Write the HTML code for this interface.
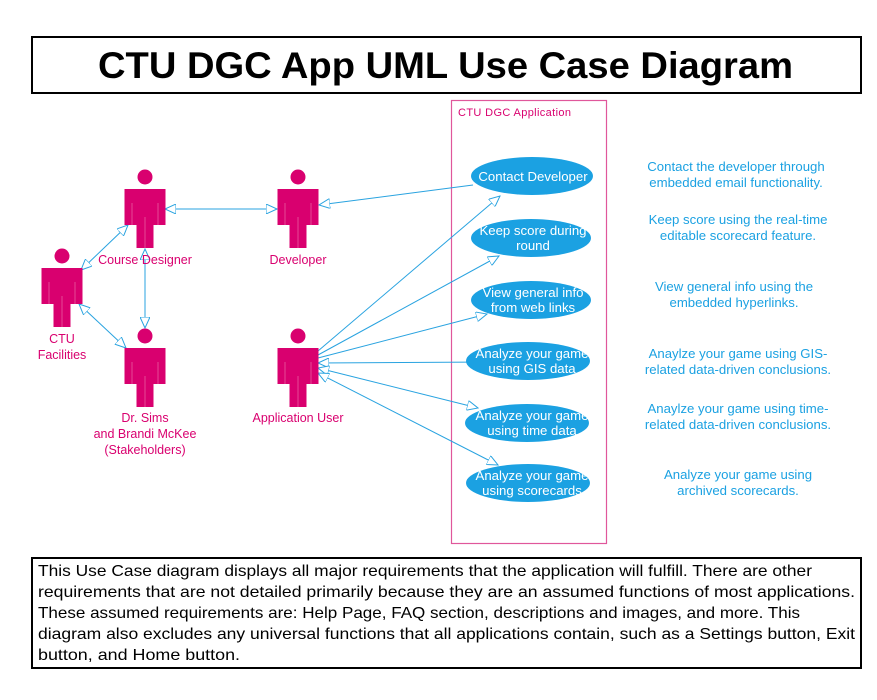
<!DOCTYPE html>
<html><head><meta charset="utf-8"><style>
html,body{margin:0;padding:0;background:#fff;width:877px;height:700px;overflow:hidden}
svg{display:block}
</style></head><body>
<svg width="877" height="700" viewBox="0 0 877 700" xmlns="http://www.w3.org/2000/svg" font-family="Liberation Sans, sans-serif">
<defs>
<marker id="a" markerWidth="12" markerHeight="10" refX="11" refY="5" orient="auto-start-reverse" markerUnits="userSpaceOnUse">
<path d="M0,0 L11,5 L0,10 Z" fill="#fff" stroke="#29a3e0" stroke-width="1"/></marker>
<g id="actor">
<circle cx="0" cy="-12" r="7.5" fill="#d9006f"/>
<path d="M-20.5,0 H20.5 V36 H8.5 V59 H-8.5 V36 H-20.5 Z" fill="#d9006f"/>
<path d="M0,28 V59 M-13,14 V36 M13,14 V36" stroke="#e85a9f" stroke-width="0.8"/>
</g>
</defs>
<rect x="32" y="37" width="829" height="56" fill="#fff" stroke="#000" stroke-width="2"/>
<text x="98" y="78" font-size="37" font-weight="bold" textLength="695" lengthAdjust="spacingAndGlyphs">CTU DGC App UML Use Case Diagram</text>

<rect x="451.5" y="100.5" width="155" height="443" fill="none" stroke="#e0579b" stroke-width="1.2"/>
<text x="458" y="116" font-size="11" fill="#d9006f" textLength="113">CTU DGC Application</text>

<g stroke="#29a3e0" stroke-width="1" fill="none">
<line x1="165" y1="209" x2="277" y2="209" marker-start="url(#a)" marker-end="url(#a)"/>
<line x1="128" y1="225" x2="81" y2="270" marker-start="url(#a)" marker-end="url(#a)"/>
<line x1="145" y1="249" x2="145" y2="328" marker-start="url(#a)" marker-end="url(#a)"/>
<line x1="79" y1="304" x2="126" y2="348" marker-start="url(#a)" marker-end="url(#a)"/>
<line x1="473" y1="185" x2="319" y2="205" marker-end="url(#a)"/>
<line x1="318" y1="351" x2="500" y2="196" marker-end="url(#a)"/>
<line x1="318" y1="355" x2="499" y2="256" marker-end="url(#a)"/>
<line x1="318" y1="358" x2="487" y2="314" marker-end="url(#a)"/>
<line x1="318" y1="363" x2="490" y2="362" marker-start="url(#a)" marker-end="url(#a)"/>
<line x1="318" y1="368" x2="478" y2="408" marker-start="url(#a)" marker-end="url(#a)"/>
<line x1="318" y1="373" x2="498" y2="465" marker-start="url(#a)" marker-end="url(#a)"/>
</g>

<use href="#actor" x="145" y="189"/>
<use href="#actor" x="298" y="189"/>
<use href="#actor" x="62" y="268"/>
<use href="#actor" x="145" y="348"/>
<use href="#actor" x="298" y="348"/>

<g font-size="12.5" fill="#d9006f" text-anchor="middle">
<text x="145" y="264">Course Designer</text>
<text x="298" y="264">Developer</text>
<text x="62" y="343">CTU</text>
<text x="62" y="359">Facilities</text>
<text x="145" y="422">Dr. Sims</text>
<text x="145" y="438">and Brandi McKee</text>
<text x="145" y="454">(Stakeholders)</text>
<text x="298" y="422">Application User</text>
</g>

<g fill="#1ba1e2">
<ellipse cx="532" cy="176" rx="61" ry="19"/>
<ellipse cx="531" cy="238" rx="60" ry="19"/>
<ellipse cx="531" cy="300" rx="60" ry="19"/>
<ellipse cx="528" cy="361" rx="62" ry="19"/>
<ellipse cx="527" cy="423" rx="62" ry="19"/>
<ellipse cx="528" cy="483" rx="62" ry="19"/>
</g>
<g font-size="13.2" fill="#fff" text-anchor="middle">
<text x="533" y="181">Contact Developer</text>
<text x="533" y="235">Keep score during</text><text x="533" y="250">round</text>
<text x="533" y="297">View general info</text><text x="533" y="312">from web links</text>
<text x="532" y="358">Analyze your game</text><text x="532" y="373">using GIS data</text>
<text x="532" y="420">Analyze your game</text><text x="532" y="435">using time data</text>
<text x="532" y="480">Analyze your game</text><text x="532" y="495">using scorecards</text>
</g>
<g font-size="13.2" fill="#1ba1e2" text-anchor="middle">
<text x="736" y="171">Contact the developer through</text><text x="736" y="187">embedded email functionality.</text>
<text x="738" y="224">Keep score using the real-time</text><text x="738" y="240">editable scorecard feature.</text>
<text x="734" y="291">View general info using the</text><text x="734" y="307">embedded hyperlinks.</text>
<text x="738" y="358">Anaylze your game using GIS-</text><text x="738" y="374">related data-driven conclusions.</text>
<text x="738" y="413">Anaylze your game using time-</text><text x="738" y="429">related data-driven conclusions.</text>
<text x="738" y="479">Analyze your game using</text><text x="738" y="495">archived scorecards.</text>
</g>

<rect x="32" y="558" width="829" height="110" fill="#fff" stroke="#000" stroke-width="2"/>
<g font-size="16" fill="#000" lengthAdjust="spacingAndGlyphs">
<text x="38" y="576" textLength="774" lengthAdjust="spacingAndGlyphs">This Use Case diagram displays all major requirements that the application will fulfill. There are other</text>
<text x="38" y="597" textLength="817" lengthAdjust="spacingAndGlyphs">requirements that are not detailed primarily because they are an assumed functions of most applications.</text>
<text x="38" y="618" textLength="762" lengthAdjust="spacingAndGlyphs">These assumed requirements are: Help Page, FAQ section, descriptions and images, and more. This</text>
<text x="38" y="639" textLength="817" lengthAdjust="spacingAndGlyphs">diagram also excludes any universal functions that all applications contain, such as a Settings button, Exit</text>
<text x="38" y="660" textLength="202" lengthAdjust="spacingAndGlyphs">button, and Home button.</text>
</g>
</svg>
</body></html>
